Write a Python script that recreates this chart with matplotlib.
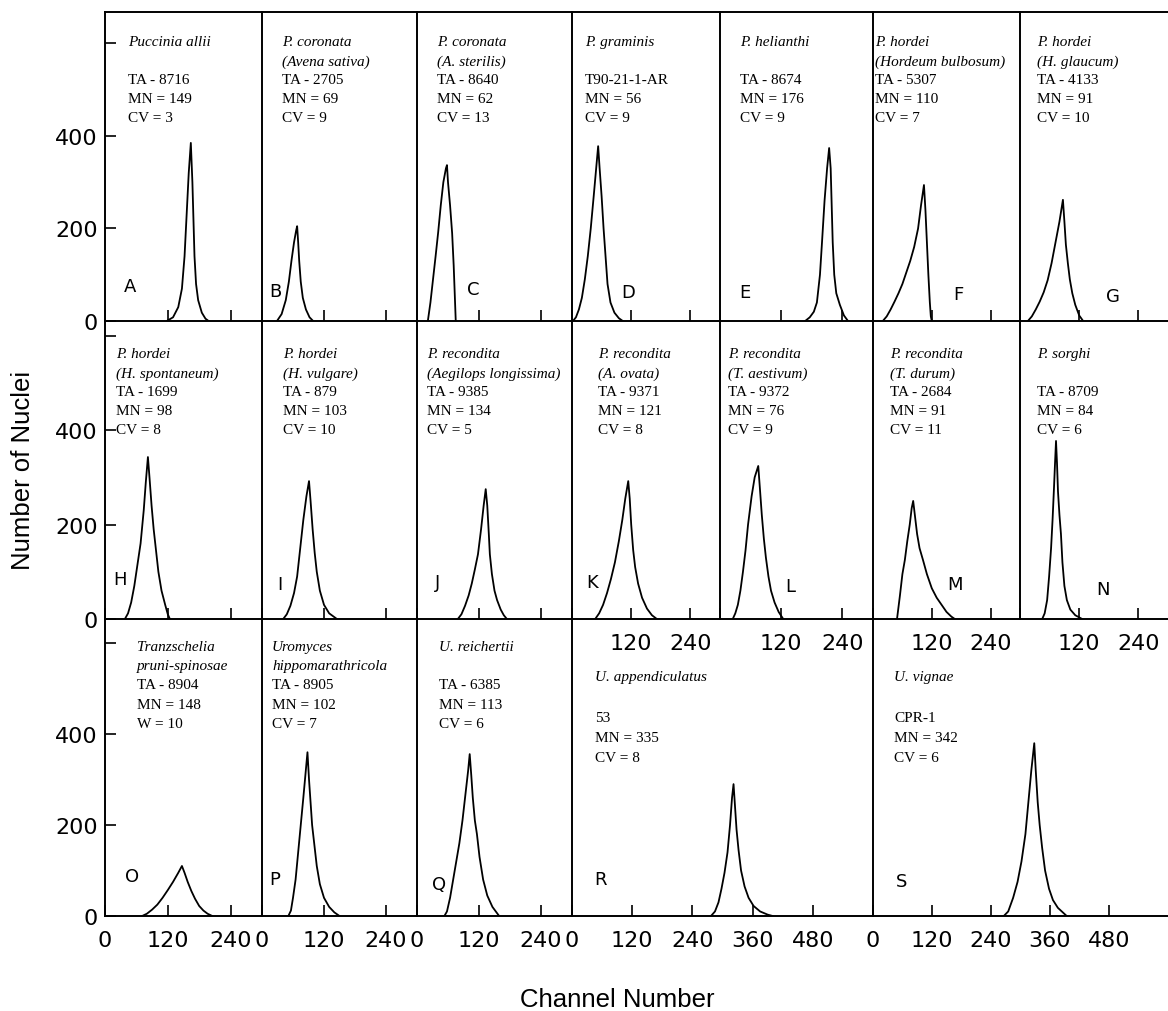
import matplotlib
matplotlib.use("Agg")
from matplotlib import pyplot as plt

# peak outlines (channel number, number of nuclei)
chan_A = [118, 130, 140, 147, 152, 156, 160, 164, 167, 169, 171, 174, 178, 185, 192, 198]
nuc_A = [0, 8, 30, 70, 140, 230, 320, 385, 300, 220, 140, 80, 45, 18, 5, 0]
chan_B = [29, 38, 46, 52, 57, 62, 66, 68, 70, 72, 75, 79, 85, 92, 99]
nuc_B = [0, 15, 45, 85, 130, 170, 195, 205, 170, 130, 85, 50, 25, 8, 0]
chan_C = [21, 26, 31, 36, 41, 46, 51, 56, 58, 60, 64, 68, 71, 73, 75]
nuc_C = [0, 40, 90, 140, 192, 250, 300, 330, 337, 300, 250, 190, 120, 60, 0]
chan_D = [2, 8, 14, 20, 26, 32, 38, 44, 49, 53, 56, 60, 64, 68, 72, 78, 86, 95, 103]
nuc_D = [0, 8, 25, 50, 90, 140, 200, 270, 330, 378, 330, 270, 200, 140, 80, 40, 18, 6, 0]
chan_E = [167, 176, 184, 190, 196, 200, 205, 210, 214, 217, 219, 221, 224, 228, 235, 243, 251]
nuc_E = [0, 8, 20, 40, 100, 170, 260, 330, 374, 330, 250, 170, 100, 60, 35, 12, 0]
chan_F = [20, 28, 36, 44, 52, 60, 68, 76, 84, 92, 98, 104, 107, 110, 113, 116, 118, 120]
nuc_F = [0, 10, 25, 42, 60, 80, 105, 130, 160, 200, 250, 294, 240, 170, 100, 40, 10, 0]
chan_G = [16, 24, 32, 40, 48, 56, 64, 72, 80, 87, 90, 93, 97, 101, 106, 112, 120, 128]
nuc_G = [0, 10, 25, 42, 62, 88, 125, 170, 215, 262, 215, 165, 125, 90, 60, 35, 12, 0]

chan_H = [38, 44, 50, 56, 62, 68, 74, 78, 82, 85, 89, 93, 97, 102, 108, 115, 120, 124]
nuc_H = [0, 12, 35, 70, 115, 160, 230, 290, 343, 300, 240, 190, 150, 100, 60, 30, 10, 0]
chan_I = [41, 48, 55, 62, 68, 74, 80, 86, 91, 94, 98, 102, 106, 112, 120, 130, 145]
nuc_I = [0, 10, 28, 55, 90, 150, 210, 260, 292, 250, 190, 140, 100, 60, 30, 12, 0]
chan_J = [79, 86, 93, 100, 106, 112, 118, 124, 129, 133, 136, 139, 141, 145, 150, 155, 162, 168, 174]
nuc_J = [0, 10, 28, 50, 75, 105, 137, 190, 240, 275, 240, 180, 137, 95, 60, 40, 20, 8, 0]
chan_K = [47, 55, 63, 71, 79, 87, 95, 102, 108, 114, 117, 120, 124, 128, 134, 142, 152, 162, 172]
nuc_K = [0, 12, 30, 55, 85, 120, 165, 210, 255, 292, 255, 200, 146, 110, 75, 45, 22, 8, 0]
chan_L = [25, 30, 35, 40, 45, 50, 55, 62, 68, 75, 78, 82, 86, 90, 95, 100, 107, 115, 124]
nuc_L = [0, 12, 30, 60, 100, 145, 200, 260, 300, 324, 280, 220, 170, 130, 90, 60, 35, 15, 0]
chan_M = [49, 55, 60, 65, 70, 75, 79, 82, 86, 90, 95, 102, 110, 120, 130, 140, 150, 160, 167]
nuc_M = [0, 50, 95, 125, 165, 200, 235, 250, 215, 180, 150, 125, 95, 65, 45, 30, 15, 5, 0]
chan_N = [45, 50, 55, 59, 63, 66, 69, 71, 73, 75, 77, 80, 83, 86, 90, 95, 102, 112, 126]
nuc_N = [0, 12, 40, 90, 150, 210, 280, 330, 377, 330, 270, 220, 180, 120, 70, 40, 20, 8, 0]

chan_O = [71, 80, 90, 100, 110, 120, 130, 140, 147, 152, 158, 165, 172, 180, 188, 196, 205]
nuc_O = [0, 5, 14, 25, 40, 57, 75, 95, 110, 95, 75, 55, 38, 22, 12, 5, 0]
chan_P = [51, 56, 60, 65, 70, 75, 80, 84, 88, 91, 94, 97, 101, 106, 112, 120, 130, 140, 150]
nuc_P = [0, 12, 40, 80, 140, 200, 260, 310, 360, 300, 250, 200, 160, 110, 70, 40, 20, 8, 0]
chan_Q = [53, 58, 64, 70, 76, 82, 88, 94, 99, 102, 105, 108, 112, 116, 121, 128, 136, 146, 159]
nuc_Q = [0, 10, 40, 80, 120, 160, 210, 270, 320, 356, 310, 260, 210, 180, 130, 80, 45, 20, 0]
chan_R = [277, 285, 292, 298, 304, 310, 315, 319, 322, 325, 328, 332, 337, 344, 352, 362, 375, 390, 400]
nuc_R = [0, 10, 30, 60, 95, 140, 200, 260, 290, 240, 190, 145, 100, 65, 40, 22, 10, 3, 0]
chan_S = [266, 275, 285, 294, 302, 310, 316, 322, 328, 331, 335, 339, 344, 350, 358, 366, 376, 386, 394]
nuc_S = [0, 10, 40, 75, 120, 180, 250, 320, 380, 320, 250, 200, 150, 100, 60, 35, 18, 8, 0]

# panel captions
txt_A = ["Puccinia allii", "", "TA - 8716", "MN = 149", "CV = 3"]
txt_B = ["P. coronata", "(Avena sativa)", "TA - 2705", "MN = 69", "CV = 9"]
txt_C = ["P. coronata", "(A. sterilis)", "TA - 8640", "MN = 62", "CV = 13"]
txt_D = ["P. graminis", "", "T90-21-1-AR", "MN = 56", "CV = 9"]
txt_E = ["P. helianthi", "", "TA - 8674", "MN = 176", "CV = 9"]
txt_F = ["P. hordei", "(Hordeum bulbosum)", "TA - 5307", "MN = 110", "CV = 7"]
txt_G = ["P. hordei", "(H. glaucum)", "TA - 4133", "MN = 91", "CV = 10"]
txt_H = ["P. hordei", "(H. spontaneum)", "TA - 1699", "MN = 98", "CV = 8"]
txt_I = ["P. hordei", "(H. vulgare)", "TA - 879", "MN = 103", "CV = 10"]
txt_J = ["P. recondita", "(Aegilops longissima)", "TA - 9385", "MN = 134", "CV = 5"]
txt_K = ["P. recondita", "(A. ovata)", "TA - 9371", "MN = 121", "CV = 8"]
txt_L = ["P. recondita", "(T. aestivum)", "TA - 9372", "MN = 76", "CV = 9"]
txt_M = ["P. recondita", "(T. durum)", "TA - 2684", "MN = 91", "CV = 11"]
txt_N = ["P. sorghi", "", "TA - 8709", "MN = 84", "CV = 6"]
txt_O = ["Tranzschelia", "pruni-spinosae", "TA - 8904", "MN = 148", "W = 10"]
txt_P = ["Uromyces", "hippomarathricola", "TA - 8905", "MN = 102", "CV = 7"]
txt_Q = ["U. reichertii", "", "TA - 6385", "MN = 113", "CV = 6"]
txt_R = ["U. appendiculatus", "", "53", "MN = 335", "CV = 8"]
txt_S = ["U. vignae", "", "CPR-1", "MN = 342", "CV = 6"]

y_ticks = [0, 200, 400, 600]
y_labels = ["0", "200", "400", ""]

W, H = 1168, 1012
fig = plt.figure(figsize=(W / 100, H / 100), dpi=100)

col_px = [105, 262, 417, 572, 720, 873, 1020, 1168]
row_px = [(13, 322), (322, 620), (620, 917)]
row_ytop = [668, 631, 653]
row_dy = [[30, 49, 68, 87, 106], [33, 52, 71, 90, 109], [28, 47, 66, 86, 105]]
low_dy = [58, 78, 99, 119, 139]

# letter, row, first col, last col, x data, y data, caption, caption dx, letter offset, xlabel mode
panels = [
    ("A", 0, 0, 1, chan_A, nuc_A, txt_A, 23, (25, 35), None),
    ("B", 0, 1, 2, chan_B, nuc_B, txt_B, 20, (13, 30), None),
    ("C", 0, 2, 3, chan_C, nuc_C, txt_C, 20, (56, 32), None),
    ("D", 0, 3, 4, chan_D, nuc_D, txt_D, 13, (56, 29), None),
    ("E", 0, 4, 5, chan_E, nuc_E, txt_E, 20, (25, 29), None),
    ("F", 0, 5, 6, chan_F, nuc_F, txt_F, 2, (85, 27), None),
    ("G", 0, 6, 7, chan_G, nuc_G, txt_G, 17, (93, 25), None),
    ("H", 1, 0, 1, chan_H, nuc_H, txt_H, 11, (15, 40), None),
    ("I", 1, 1, 2, chan_I, nuc_I, txt_I, 21, (18, 35), None),
    ("J", 1, 2, 3, chan_J, nuc_J, txt_J, 10, (21, 37), None),
    ("K", 1, 3, 4, chan_K, nuc_K, txt_K, 26, (20, 37), "mid"),
    ("L", 1, 4, 5, chan_L, nuc_L, txt_L, 8, (70, 33), "mid"),
    ("M", 1, 5, 6, chan_M, nuc_M, txt_M, 17, (82, 35), "mid"),
    ("N", 1, 6, 7, chan_N, nuc_N, txt_N, 17, (83, 30), "mid"),
    ("O", 2, 0, 1, chan_O, nuc_O, txt_O, 32, (27, 40), "all"),
    ("P", 2, 1, 2, chan_P, nuc_P, txt_P, 10, (13, 37), "all"),
    ("Q", 2, 2, 3, chan_Q, nuc_Q, txt_Q, 22, (22, 32), "all"),
    ("R", 2, 3, 5, chan_R, nuc_R, txt_R, 23, (29, 37), "all"),
    ("S", 2, 5, 7, chan_S, nuc_S, txt_S, 21, (29, 35), "all"),
]

for letter, r, c0, c1, xs, ys, lines, tdx, (lx, ly), mode in panels:
    x0, x1 = col_px[c0], col_px[c1]
    top, bot = row_px[r]
    ax = fig.add_axes([x0 / W, 1 - bot / H, (x1 - x0) / W, (bot - top) / H])
    ax.set_facecolor("none")
    xmax = 300 * (c1 - c0)
    ax.set_xlim(0, xmax)
    ax.set_ylim(0, row_ytop[r])
    ax.plot(xs, ys, color="black", lw=1.3)

    for side in ["right", "top"]:
        ax.spines[side].set_visible(False)
    if r == 0:
        ax.spines["top"].set_visible(True)
    for side in ["left", "bottom", "top"]:
        ax.spines[side].set_linewidth(1.4)

    xt = list(range(0, xmax, 120))
    ax.set_xticks(xt)
    if mode == "all":
        ax.set_xticklabels([str(v) for v in xt])
    elif mode == "mid":
        ax.set_xticklabels([""] + [str(v) for v in xt[1:]])
    else:
        ax.set_xticklabels([])
    ax.tick_params(axis="x", direction="in", length=8, width=1.2, labelsize=16, pad=10)

    if c0 == 0:
        ax.set_yticks(y_ticks)
        ax.set_yticklabels(y_labels)
        ax.tick_params(axis="y", direction="in", length=8, width=1.2, labelsize=16, pad=5)
    else:
        ax.set_yticks([])

    dys = low_dy if letter in ("R", "S") else row_dy[r]
    for i, (line, dy) in enumerate(zip(lines, dys)):
        if not line:
            continue
        ax.annotate(line, xy=(0, 1), xycoords="axes fraction", xytext=(tdx, -dy),
                    textcoords="offset pixels", ha="left", va="center", fontsize=11,
                    family="Liberation Serif", style="italic" if i < 2 else "normal")

    ax.annotate(letter, xy=(0, 0), xycoords="axes fraction", xytext=(lx, ly),
                textcoords="offset pixels", ha="center", va="center", fontsize=13)

fig.text(23 / W, 1 - 470 / H, "Number of Nuclei", rotation=90, ha="center", va="center",
         fontsize=18.5, family="Liberation Sans")
fig.text(617 / W, 1 - 1000 / H, "Channel Number", ha="center", va="center",
         fontsize=18.5, family="Liberation Sans")

fig.savefig("out.png", dpi=100)
